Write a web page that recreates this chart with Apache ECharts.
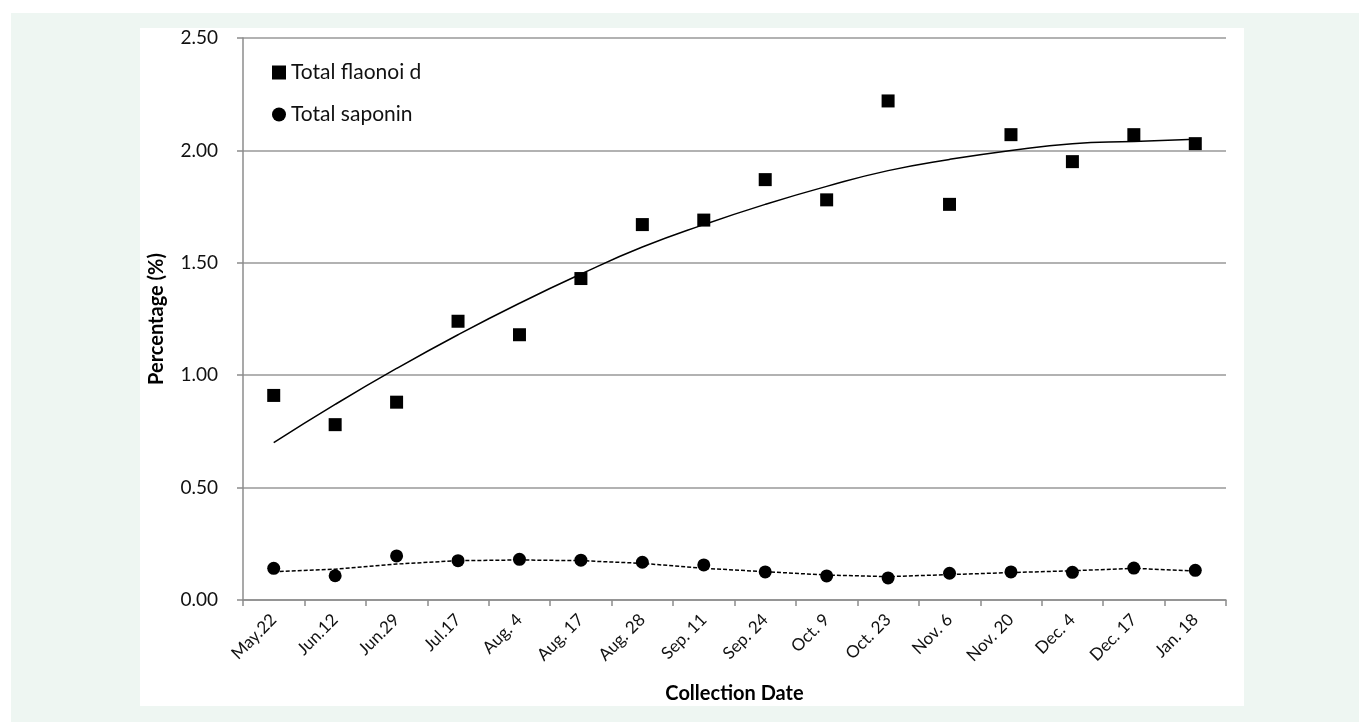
<!DOCTYPE html>
<html>
<head>
<meta charset="utf-8">
<script src="https://cdn.jsdelivr.net/npm/echarts/dist/echarts.min.js"></script>
<style>
  html, body { margin: 0; padding: 0; background: #fff; }
  #bg { position: absolute; left: 11px; top: 13px; width: 1348px; height: 709px; background: #eef6f2; }
  #panel { position: absolute; left: 140px; top: 28px; width: 1104px; height: 678px; background: #fff; }
  #chart { position: absolute; left: 0; top: 0; width: 1359px; height: 722px; }
</style>
</head>
<body>
<div id="bg"></div>
<div id="panel"></div>
<div id="chart"></div>
<script>
// collection dates
const dates = ['May.22', 'Jun.12', 'Jun.29', 'Jul.17', 'Aug. 4', 'Aug. 17', 'Aug. 28', 'Sep. 11',
  'Sep. 24', 'Oct. 9', 'Oct. 23', 'Nov. 6', 'Nov. 20', 'Dec. 4', 'Dec. 17', 'Jan. 18']

// measured values (%)
const flavonoid = [0.91, 0.78, 0.88, 1.24, 1.18, 1.43, 1.67, 1.69, 1.87, 1.78, 2.22, 1.76, 2.07, 1.95, 2.07, 2.03]
const saponin = [0.141, 0.108, 0.196, 0.175, 0.181, 0.177, 0.168, 0.156, 0.125, 0.107, 0.098, 0.119, 0.125, 0.123, 0.142, 0.132]

// trend lines
const flavonoidTrend = [0.70, 0.87, 1.03, 1.18, 1.32, 1.45, 1.57, 1.67, 1.76, 1.84, 1.91, 1.96, 2.00, 2.03, 2.04, 2.05]
const saponinTrend = [0.126, 0.137, 0.160, 0.175, 0.178, 0.175, 0.163, 0.141, 0.126, 0.111, 0.104, 0.113, 0.122, 0.130, 0.141, 0.129]

const yTicks = ['0.00', '0.50', '1.00', '1.50', '2.00', '2.50']

const font = 'Lato, "Open Sans", sans-serif'

let c = echarts.init(document.getElementById('chart'))
c.setOption({
  animation: false,
  textStyle: { fontFamily: font },
  grid: { left: 243, right: 133, top: 38, bottom: 122 },
  legend: {
    data: [
      { name: 'Total flaonoi d', icon: 'rect' },
      { name: 'Total saponin', icon: 'circle' }
    ],
    orient: 'vertical',
    left: 267,
    top: 57,
    itemWidth: 14,
    itemHeight: 14,
    itemGap: 21,
    textStyle: { color: '#111', fontSize: 21, fontFamily: font }
  },
  xAxis: {
    type: 'category',
    data: dates,
    boundaryGap: true,
    name: 'Collection Date',
    nameLocation: 'middle',
    nameGap: 84,
    nameTextStyle: { color: '#000', fontSize: 20, fontWeight: 'bold', fontFamily: font },
    axisLine: { lineStyle: { color: '#8c8c8c', width: 1.5 } },
    axisTick: { show: true, length: 6, lineStyle: { color: '#8c8c8c', width: 1.5 } },
    axisLabel: { rotate: 45, margin: 17, color: '#111', fontSize: 17, fontFamily: font },
    splitLine: { show: false }
  },
  yAxis: {
    type: 'value',
    min: 0,
    max: 2.5,
    interval: 0.5,
    name: 'Percentage (%)',
    nameLocation: 'middle',
    nameGap: 76,
    nameTextStyle: { color: '#000', fontSize: 20, fontWeight: 'bold', fontFamily: font },
    axisLine: { show: true, lineStyle: { color: '#8c8c8c', width: 1.5 } },
    axisTick: { show: true, length: 6, lineStyle: { color: '#8c8c8c', width: 1.5 } },
    axisLabel: {
      margin: 25,
      color: '#111',
      fontSize: 19,
      fontFamily: font,
      formatter: (v) => yTicks[Math.round(v / 0.5)]
    },
    splitLine: { lineStyle: { color: '#999', width: 1.5 } }
  },
  series: [
    {
      name: 'flavonoid trend',
      type: 'line',
      data: flavonoidTrend,
      smooth: true,
      showSymbol: false,
      symbol: 'none',
      lineStyle: { color: '#000', width: 1.5 },
      z: 1
    },
    {
      name: 'saponin trend',
      type: 'line',
      data: saponinTrend,
      showSymbol: false,
      symbol: 'none',
      lineStyle: { color: '#000', width: 1.5, type: [4, 2] },
      z: 1
    },
    {
      name: 'Total flaonoi d',
      type: 'scatter',
      symbol: 'rect',
      symbolSize: 13,
      data: flavonoid,
      itemStyle: { color: '#000', opacity: 1 },
      z: 3
    },
    {
      name: 'Total saponin',
      type: 'scatter',
      symbol: 'circle',
      symbolSize: 13,
      data: saponin,
      itemStyle: { color: '#000', opacity: 1 },
      z: 3
    }
  ]
})
</script>
</body>
</html>
